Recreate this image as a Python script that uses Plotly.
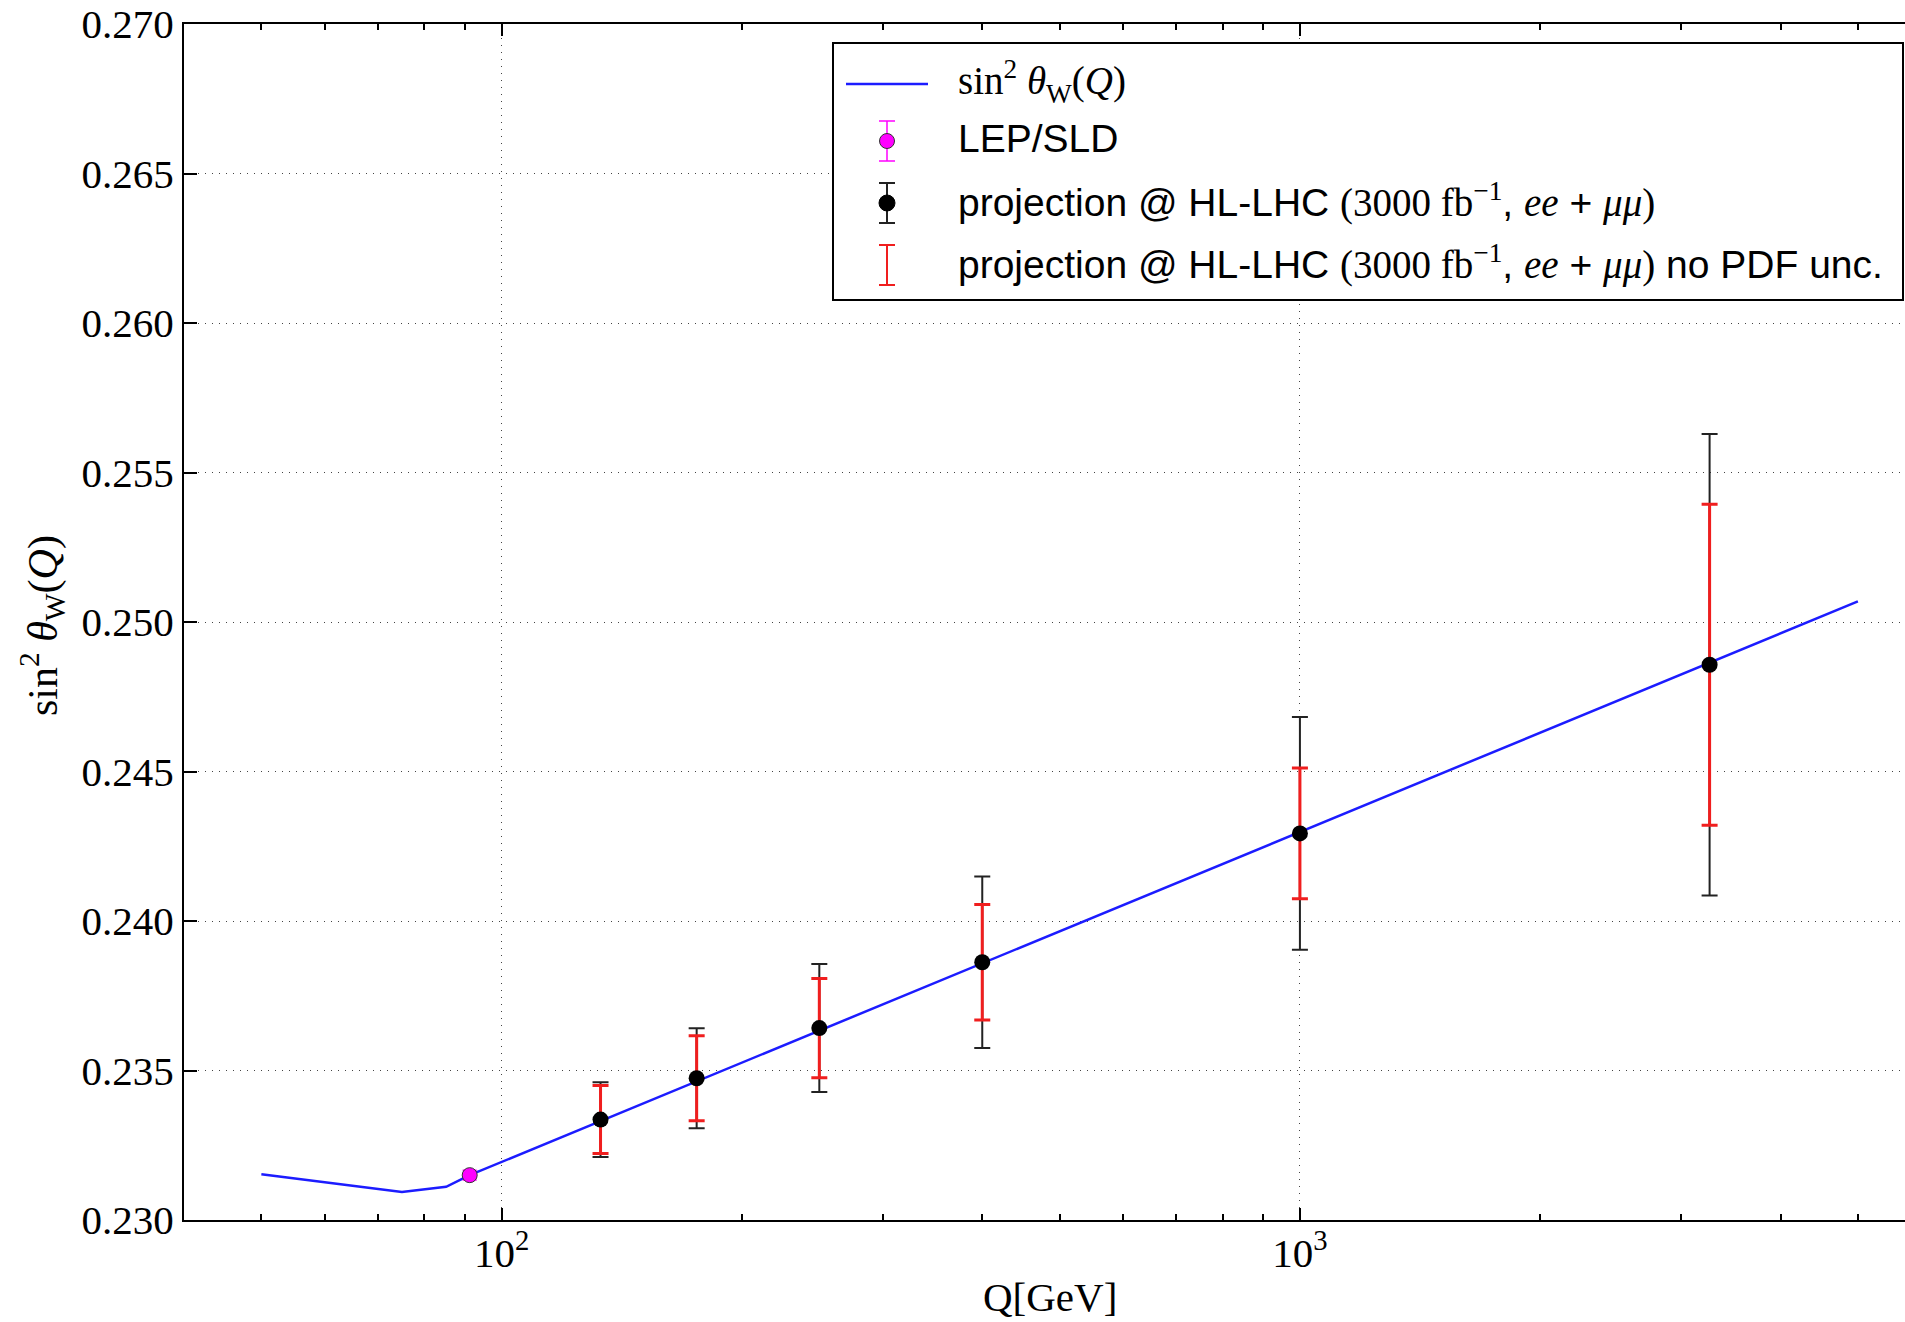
import numpy as np
import plotly.graph_objects as go

# ---- data -------------------------------------------------------------
# running sin^2 theta_W(Q) prediction
curve_q = [50.0, 75.0, 85.2, 91.19, 5000.0]
curve_s2w = [0.23153, 0.23094, 0.23111, 0.23150, 0.25069]

# LEP/SLD measurement at the Z pole
lep_q = [91.19]
lep_s2w = [0.23150]
lep_err = [0.00016]

# HL-LHC projections (3000 fb^-1, ee + mumu)
proj_q = [133.0, 175.5, 250.0, 400.0, 1000.0, 3260.0]
proj_s2w = [0.23336, 0.23474, 0.23642, 0.23862, 0.24293, 0.24857]
proj_err_total = [0.00125, 0.00167, 0.00214, 0.00287, 0.00389, 0.00772]
proj_err_nopdf = [0.00114, 0.00142, 0.00166, 0.00193, 0.00219, 0.00537]

# axis ticks
y_ticks = [0.230, 0.235, 0.240, 0.245, 0.250, 0.255, 0.260, 0.265, 0.270]
x_major = [100, 1000]
x_major_text = ["10<sup>2</sup>", "10<sup>3</sup>"]
x_minor = [40, 50, 60, 70, 80, 90, 200, 300, 400, 500, 600, 700, 800, 900,
           2000, 3000, 4000, 5000]

# ---- layout geometry (pixels) ------------------------------------------
W, H = 1905, 1322
L, R, T, B = 184, 1905, 24, 1220

SERIF = "Liberation Serif"
SANS = "Liberation Sans"
BLUE = "#1c1cff"
RED = "#f01e1e"
MAGENTA = "#ff00ff"


def px_x(p):
    return (p - L) / (R - L)


def px_y(p):
    return (B - p) / (B - T)


fig = go.Figure()

fig.add_trace(go.Scatter(
    x=curve_q, y=curve_s2w, mode="lines",
    line=dict(color=BLUE, width=2.5), showlegend=False, hoverinfo="skip"))

fig.add_trace(go.Scatter(
    x=proj_q, y=proj_s2w, mode="markers",
    marker=dict(size=1, color="rgba(0,0,0,0)"),
    error_y=dict(type="data", array=proj_err_total, color="#222222",
                 thickness=2, width=8),
    showlegend=False, hoverinfo="skip"))

fig.add_trace(go.Scatter(
    x=proj_q, y=proj_s2w, mode="markers",
    marker=dict(size=1, color="rgba(0,0,0,0)"),
    error_y=dict(type="data", array=proj_err_nopdf, color=RED,
                 thickness=3, width=8),
    showlegend=False, hoverinfo="skip"))

fig.add_trace(go.Scatter(
    x=proj_q, y=proj_s2w, mode="markers",
    marker=dict(size=16, color="black"),
    showlegend=False, hoverinfo="skip"))

fig.add_trace(go.Scatter(
    x=lep_q, y=lep_s2w, mode="markers",
    marker=dict(size=15, color=MAGENTA, line=dict(color="#333333", width=1)),
    error_y=dict(type="data", array=lep_err, color=MAGENTA,
                 thickness=1.5, width=7),
    showlegend=False, hoverinfo="skip"))

# ---- hand-built legend box ---------------------------------------------
shapes = []
annotations = []

lx0, lx1, ly0, ly1 = 833, 1903, 43, 300
shapes.append(dict(type="rect", xref="paper", yref="paper",
                   x0=px_x(lx0), x1=px_x(lx1), y0=px_y(ly1), y1=px_y(ly0),
                   line=dict(color="black", width=2), fillcolor="white",
                   layer="above"))

row_y = [84, 141, 203, 265]
glyph_x = 887
text_x = 956

# row 1: line sample
shapes.append(dict(type="line", xref="paper", yref="paper",
                   x0=px_x(846), x1=px_x(928), y0=px_y(row_y[0]), y1=px_y(row_y[0]),
                   line=dict(color=BLUE, width=2.5), layer="above"))


def legend_errbar(yc, color, half=20, cap=8, width=2):
    shapes.append(dict(type="line", xref="paper", yref="paper",
                       x0=px_x(glyph_x), x1=px_x(glyph_x),
                       y0=px_y(yc - half), y1=px_y(yc + half),
                       line=dict(color=color, width=width), layer="above"))
    for dy in (-half, half):
        shapes.append(dict(type="line", xref="paper", yref="paper",
                           x0=px_x(glyph_x - cap), x1=px_x(glyph_x + cap),
                           y0=px_y(yc + dy), y1=px_y(yc + dy),
                           line=dict(color=color, width=width), layer="above"))


def legend_dot(yc, color, r, edge):
    shapes.append(dict(type="circle", xref="paper", yref="paper",
                       xsizemode="pixel", ysizemode="pixel",
                       xanchor=px_x(glyph_x), yanchor=px_y(yc),
                       x0=-r, x1=r, y0=-r, y1=r,
                       fillcolor=color, line=dict(color=edge, width=1),
                       layer="above"))


legend_errbar(row_y[1], MAGENTA, width=1.5)
legend_dot(row_y[1], MAGENTA, 7.5, "#333333")
legend_errbar(row_y[2], "#222222", width=2)
legend_dot(row_y[2], "black", 8, "black")
legend_errbar(row_y[3], RED, width=2)

sfont = f"font-family:{SERIF}"
proj_label = (f"projection @ HL-LHC <span style='{sfont}'>(3000 fb<sup>−1</sup></span>, "
              f"<span style='{sfont}'><i>ee</i></span> + "
              f"<span style='{sfont}'><i>μμ</i>)</span>")
legend_texts = [
    (f"<span style='{sfont}'>sin<sup>2</sup> <i>θ</i><sub>W</sub>(<i>Q</i>)</span>"),
    "LEP/SLD",
    proj_label,
    proj_label + " no PDF unc.",
]
for yc, txt in zip(row_y, legend_texts):
    annotations.append(dict(xref="paper", yref="paper",
                            x=px_x(text_x), y=px_y(yc - 3),
                            xanchor="left", yanchor="middle",
                            text=txt, showarrow=False,
                            font=dict(family=SANS, size=39, color="black")))

# axis titles
annotations.append(dict(xref="paper", yref="paper",
                        x=px_x(1050), y=px_y(1297),
                        xanchor="center", yanchor="middle",
                        text="Q[GeV]", showarrow=False,
                        font=dict(family=SERIF, size=41, color="black")))
annotations.append(dict(xref="paper", yref="paper",
                        x=px_x(42), y=px_y(626),
                        xanchor="center", yanchor="middle", textangle=-90,
                        text="sin<sup>2</sup> <i>θ</i><sub>W</sub>(<i>Q</i>)",
                        showarrow=False,
                        font=dict(family=SERIF, size=42, color="black")))

fig.update_layout(
    width=W, height=H,
    margin=dict(l=L, r=W - R, t=T, b=H - B, pad=0),
    paper_bgcolor="white", plot_bgcolor="white",
    showlegend=False,
    shapes=shapes, annotations=annotations,
    font=dict(family=SERIF, size=41, color="black"),
)

fig.update_xaxes(
    type="log", range=[np.log10(40), 3.758],
    tickmode="array", tickvals=x_major, ticktext=x_major_text,
    ticks="inside", ticklen=12, tickwidth=1.5, tickcolor="black",
    ticklabelstandoff=-4,
    showline=True, linecolor="black", linewidth=2, mirror="ticks",
    showgrid=True, gridcolor="#444444", gridwidth=1.2, griddash="1px,6px",
    zeroline=False,
    tickfont=dict(family=SERIF, size=41, color="black"),
    minor=dict(tickmode="array", tickvals=x_minor, ticks="inside", ticklen=6,
               tickwidth=1.5, tickcolor="black", showgrid=False),
)

fig.update_yaxes(
    range=[0.230, 0.270],
    tickmode="array", tickvals=y_ticks, tickformat=".3f",
    ticks="inside", ticklen=13, tickwidth=1.5, tickcolor="black",
    showline=True, linecolor="black", linewidth=2, mirror=False,
    showgrid=True, gridcolor="#444444", gridwidth=1.2, griddash="1px,6px",
    zeroline=False,
    tickfont=dict(family=SERIF, size=41, color="black"),
)

fig.write_html("out.html")
